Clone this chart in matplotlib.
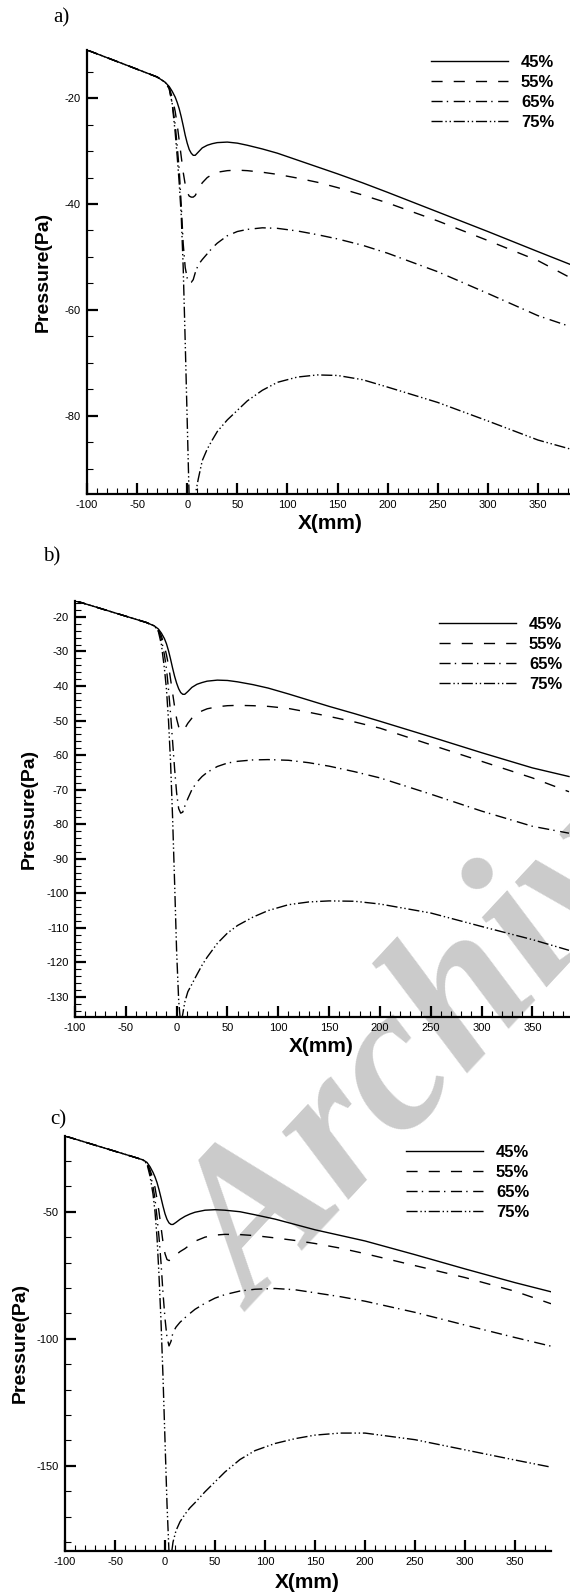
import numpy as np
import matplotlib.pyplot as plt
from matplotlib.ticker import MultipleLocator, FixedLocator

plt.rcParams['font.family'] = ['Liberation Sans', 'DejaVu Sans']
plt.rcParams['axes.unicode_minus'] = False
plt.rcParams['lines.scale_dashes'] = False

# x positions (mm) shared by all curves
x_mm = [-100, -60, -30, -22, -18, -15, -12, -10, -8, -6, -4, -2, 0, 2, 4, 6, 8, 11, 15, 20,
        25, 30, 40, 50, 60, 75, 90, 110, 130, 150, 175, 200, 250, 300, 350, 386]

labels = ['45%', '55%', '65%', '75%']

# panel a
a45 = [-10.9, -13.8, -16.0, -17.0, -17.8, -18.7, -19.8, -20.8, -22.0, -23.5, -25.2, -27.0, -28.5, -29.7, -30.4,
       -30.8, -30.8, -30.2, -29.4, -28.9, -28.6, -28.4, -28.3, -28.5, -28.9, -29.6, -30.4, -31.7, -33.0, -34.3,
       -36.0, -37.8, -41.5, -45.2, -49.0, -51.7]
a55 = [-10.9, -13.8, -16.0, -17.0, -18.0, -19.8, -22.5, -25.0, -28.0, -31.0, -34.0, -36.3, -37.8, -38.5, -38.7,
       -38.7, -38.4, -37.3, -36.0, -35.0, -34.4, -34.0, -33.7, -33.6, -33.7, -34.0, -34.4, -35.1, -35.9, -36.9,
       -38.3, -39.8, -43.2, -46.9, -50.7, -54.3]
a65 = [-10.9, -13.8, -16.0, -17.0, -18.1, -21.0, -25.0, -29.0, -33.5, -40.0, -47.5, -52.0, -54.0, -54.6, -54.8,
       -54.3, -53.0, -51.5, -50.5, -49.4, -48.3, -47.4, -46.0, -45.2, -44.8, -44.5, -44.6, -45.1, -45.8, -46.6,
       -47.8, -49.3, -52.8, -56.9, -61.1, -63.4]
a75 = [-10.9, -13.8, -16.0, -17.0, -18.2, -21.0, -26.5, -31.0, -36.0, -42.0, -52.0, -66.0, -81.0, -96.0, -99.0,
       -96.5, -95.0, -92.0, -88.5, -86.3, -84.6, -83.0, -80.8, -79.0, -77.2, -75.2, -73.7, -72.7, -72.3, -72.4,
       -73.2, -74.6, -77.5, -81.0, -84.6, -86.5]

# panel b
b45 = [-15.3, -18.9, -21.6, -22.6, -23.5, -24.7, -26.3, -27.8, -29.8, -32.2, -34.8, -37.2, -39.2, -40.8, -41.9,
       -42.4, -42.4, -41.6, -40.4, -39.5, -39.0, -38.6, -38.3, -38.4, -38.8, -39.6, -40.6, -42.3, -44.1, -45.9,
       -48.0, -50.2, -54.7, -59.3, -63.7, -66.2]
b55 = [-15.3, -18.9, -21.6, -22.6, -23.7, -25.5, -28.5, -31.0, -34.0, -38.0, -42.0, -46.0, -49.5, -51.8, -53.0,
       -53.0, -52.3, -50.8, -49.3, -48.0, -47.2, -46.6, -46.0, -45.7, -45.6, -45.7, -45.9, -46.5, -47.6, -48.8,
       -50.4, -52.2, -57.0, -61.8, -66.6, -70.6]
b65 = [-15.3, -18.9, -21.6, -22.6, -23.9, -26.5, -31.0, -35.0, -41.0, -48.0, -56.0, -64.0, -71.0, -75.5, -76.8,
       -76.5, -74.8, -72.6, -70.0, -67.8, -66.2, -65.0, -63.3, -62.3, -61.8, -61.4, -61.3, -61.5, -62.2, -63.2,
       -64.8, -66.6, -71.3, -76.2, -80.6, -82.6]
b75 = [-15.3, -18.9, -21.6, -22.6, -24.2, -28.0, -35.0, -41.0, -50.0, -62.0, -78.0, -97.0, -117.0, -131.0, -138.0,
       -135.0, -131.5, -128.5, -126.3, -123.5, -120.8, -118.5, -114.5, -111.5, -109.3, -106.9, -105.0, -103.3,
       -102.5, -102.2, -102.3, -103.1, -105.7, -109.6, -113.4, -116.5]

# panel c
c45 = [-20.2, -25.0, -28.6, -29.6, -30.6, -32.3, -34.5, -36.3, -38.5, -41.3, -44.5, -47.8, -50.8, -53.0, -54.4,
       -55.0, -55.0, -54.2, -53.0, -51.8, -50.9, -50.2, -49.4, -49.2, -49.4, -50.0, -51.2, -52.9, -55.0, -57.1,
       -59.3, -61.5, -66.9, -72.5, -77.9, -81.5]
c55 = [-20.2, -25.0, -28.6, -29.6, -30.8, -33.5, -37.0, -40.5, -45.0, -50.0, -56.0, -62.0, -66.5, -68.8, -69.2,
       -69.0, -68.3, -67.0, -65.7, -64.5, -63.0, -61.6, -60.0, -59.2, -58.9, -59.0, -59.4, -60.3, -61.3, -62.5,
       -64.3, -66.5, -71.2, -75.9, -81.3, -86.2]
c65 = [-20.2, -25.0, -28.6, -29.6, -31.0, -34.5, -40.0, -45.0, -52.0, -60.0, -70.0, -82.0, -92.0, -99.5, -102.8,
       -101.0, -97.5, -95.4, -93.5, -91.7, -90.0, -88.4, -86.0, -84.0, -82.6, -81.2, -80.5, -80.2, -80.7, -81.9,
       -83.4, -85.2, -89.6, -94.6, -99.5, -102.9]
c75 = [-20.2, -25.0, -28.6, -29.6, -31.2, -36.0, -43.0, -50.0, -60.0, -75.0, -93.0, -115.0, -140.0, -165.0,
       -184.0, -186.0, -180.0, -175.5, -172.0, -169.0, -166.5, -164.5, -160.2, -156.3, -152.4, -147.5, -144.0,
       -141.2, -139.3, -137.9, -137.1, -137.1, -139.7, -143.7, -147.7, -150.5]

W, H = 570, 1592
styles = ['-', (0, (8, 8)), (0, (8, 3, 1, 4)), (0, (8, 2, 1, 2, 1, 2))]

fig = plt.figure(figsize=(W / 100, H / 100), dpi=100)

# watermark behind the plots
fig.text(255 / W, 1 - 1312 / H, 'Archive', fontsize=150, color='#cbcbcb', rotation=47,
         family='Liberation Serif', weight='bold', style='italic',
         ha='left', va='baseline', rotation_mode='anchor', zorder=-5)

# left, top, right, bottom in pixels, xlim right, ylim, y major, y minor
panels = [
    dict(tag='a)', box=(87, 50, 570, 494), xmax=382, ylim=(-94.8, -10.9),
         ymaj=[-80, -60, -40, -20], ystep=5, data=[a45, a55, a65, a75],
         tagpos=(61, 18), ylab=(43, 272), xlab=(330, 524), leg=(431, 55)),
    dict(tag='b)', box=(75, 601, 570, 1017), xmax=387, ylim=(-135.8, -15.4),
         ymaj=list(range(-130, -19, 10)), ystep=2, data=[b45, b55, b65, b75],
         tagpos=(52, 557), ylab=(29, 809), xlab=(321, 1047), leg=(439, 617)),
    dict(tag='c)', box=(65, 1136, 551, 1551), xmax=386, ylim=(-183.5, -20.2),
         ymaj=[-150, -100, -50], ystep=10, data=[c45, c55, c65, c75],
         tagpos=(58, 1120), ylab=(20, 1343), xlab=(307, 1583), leg=(406, 1145)),
]

for p in panels:
    l, t, r, b = p['box']
    ax = fig.add_axes([l / W, 1 - b / H, (r - l) / W, (b - t) / H])
    ax.set_facecolor('none')
    for ys, ls, lab in zip(p['data'], styles, labels):
        ax.plot(x_mm, ys, color='black', lw=1.0, linestyle=ls, label=lab)
    ax.set_xlim(-100, p['xmax'])
    ax.set_ylim(*p['ylim'])

    ax.xaxis.set_major_locator(FixedLocator(range(-100, 351, 50)))
    ax.xaxis.set_minor_locator(MultipleLocator(10))
    ax.yaxis.set_major_locator(FixedLocator(p['ymaj']))
    ax.yaxis.set_minor_locator(MultipleLocator(p['ystep']))
    ax.tick_params(which='both', direction='in', top=False, right=False, labelsize=8, color='black')
    ax.tick_params(which='major', length=8, width=1.6, pad=4.5)
    ax.tick_params(which='minor', length=4.5, width=0.8)

    for s in ['top', 'right']:
        ax.spines[s].set_visible(False)
    for s in ['left', 'bottom']:
        ax.spines[s].set_linewidth(1.6)

    leg = ax.legend(loc='upper left', bbox_to_anchor=(p['leg'][0] / W, 1 - p['leg'][1] / H),
                    bbox_transform=fig.transFigure, frameon=False, borderpad=0, borderaxespad=0,
                    handlelength=4.6, handletextpad=0.8, labelspacing=0.3,
                    prop=dict(family='Liberation Sans', weight='bold', size=12))

    fig.text(p['tagpos'][0] / W, 1 - p['tagpos'][1] / H, p['tag'], family='Liberation Serif',
             fontsize=15, ha='center', va='center')
    fig.text(p['ylab'][0] / W, 1 - p['ylab'][1] / H, 'Pressure(Pa)', rotation=90,
             fontsize=14, weight='bold', ha='center', va='center')
    fig.text(p['xlab'][0] / W, 1 - p['xlab'][1] / H, 'X(mm)',
             fontsize=15, weight='bold', ha='center', va='center')

fig.savefig('out.png', dpi=100)
